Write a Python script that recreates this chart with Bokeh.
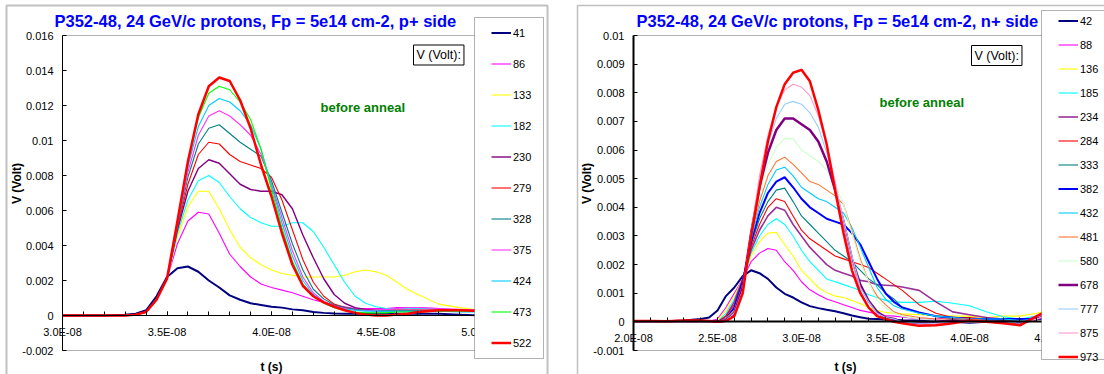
import math
from bokeh.plotting import figure
from bokeh.layouts import row
from bokeh.models import (Range1d, FixedTicker, CustomJSTickFormatter, Label,
                          BoxAnnotation, Legend, LegendItem)
from bokeh.embed import file_html
from bokeh.resources import INLINE

FONT = "Liberation Sans"

# ======================= LEFT CHART (p+ side) =======================
left_title = "P352-48, 24 GeV/c protons, Fp = 5e14 cm-2, p+ side"
# time in ns, signal in mV
left_t_ns = [30, 31, 32, 33, 33.5, 34, 34.5, 35, 35.5, 36, 36.5, 37, 37.5, 38, 38.5,
             39, 39.5, 40, 40.5, 41, 41.5, 42, 42.5, 43, 43.5, 44, 44.5, 45, 45.5,
             46, 46.5, 47, 48, 49, 50]
left_labels = ["41", "86", "133", "182", "230", "279", "328", "375", "424", "473", "522"]
left_41 = [0, 0, 0, 0.05, 0.1, 0.3, 1.1, 2.2, 2.7, 2.8, 2.5, 2.0, 1.6, 1.15, 0.9, 0.7, 0.6, 0.5,
           0.45, 0.35, 0.3, 0.2, 0.15, 0.12, 0.1, 0.1, 0.1, 0.1, 0.1, 0.1, 0.1, 0.1, 0.1, 0.05, 0.0]
left_86 = [0, 0, 0, 0, 0.05, 0.2, 0.9, 2.1, 4.1, 5.4, 5.9, 5.8, 4.7, 3.5, 2.8, 2.2, 1.8, 1.6,
           1.45, 1.3, 1.1, 0.9, 0.75, 0.6, 0.5, 0.4, 0.4, 0.4, 0.4, 0.45, 0.45, 0.45, 0.4, 0.3, 0.3]
left_133 = [0, 0, 0, 0, 0.05, 0.2, 0.9, 2.1, 4.5, 6.2, 7.1, 7.1, 6.1, 4.9, 3.9, 3.3, 2.9, 2.6,
            2.4, 2.3, 2.2, 2.2, 2.2, 2.2, 2.3, 2.5, 2.6, 2.5, 2.3, 1.9, 1.5, 1.2, 0.65, 0.45, 0.3]
left_182 = [0, 0, 0, 0, 0.05, 0.2, 0.9, 2.1, 4.7, 6.6, 7.7, 8.0, 7.6, 6.8, 6.1, 5.6, 5.3, 5.1,
            5.1, 5.3, 5.3, 4.8, 3.9, 2.9, 1.9, 1.1, 0.7, 0.5, 0.4, 0.4, 0.4, 0.4, 0.4, 0.3, 0.2]
left_230 = [0, 0, 0, 0, 0.05, 0.2, 0.9, 2.1, 4.9, 7.1, 8.4, 8.9, 8.7, 8.1, 7.5, 7.2, 7.1, 7.1,
            6.9, 6.1, 4.6, 3.3, 2.1, 1.2, 0.7, 0.45, 0.35, 0.3, 0.3, 0.3, 0.3, 0.3, 0.3, 0.3, 0.3]
left_279 = [0, 0, 0, 0, 0.05, 0.2, 0.9, 2.1, 5.0, 7.5, 9.2, 9.9, 9.8, 9.2, 8.8, 8.6, 8.4, 7.9,
            6.6, 4.9, 3.2, 1.9, 1.1, 0.65, 0.45, 0.35, 0.3, 0.3, 0.3, 0.3, 0.3, 0.3, 0.3, 0.3, 0.3]
left_328 = [0, 0, 0, 0, 0.05, 0.2, 0.9, 2.1, 5.1, 7.9, 9.8, 10.7, 10.9, 10.4, 9.9, 9.5, 9.1, 7.7,
            5.9, 4.1, 2.6, 1.5, 0.95, 0.6, 0.45, 0.35, 0.3, 0.25, 0.25, 0.25, 0.25, 0.25, 0.3, 0.3, 0.25]
left_375 = [0, 0, 0, 0, 0.05, 0.2, 0.9, 2.1, 5.2, 8.2, 10.3, 11.4, 11.7, 11.4, 10.9, 10.3, 9.2, 7.5,
            5.6, 3.7, 2.2, 1.3, 0.8, 0.55, 0.4, 0.3, 0.3, 0.3, 0.35, 0.4, 0.45, 0.45, 0.4, 0.35, 0.3]
left_424 = [0, 0, 0, 0, 0.05, 0.2, 0.9, 2.1, 5.3, 8.5, 10.8, 12.0, 12.4, 12.2, 11.7, 10.9, 9.5, 7.4,
            5.3, 3.4, 2.0, 1.2, 0.75, 0.5, 0.35, 0.3, 0.25, 0.25, 0.25, 0.25, 0.25, 0.25, 0.25, 0.2, 0.2]
left_473 = [0, 0, 0, 0, 0.05, 0.2, 0.9, 2.1, 5.4, 8.8, 11.3, 12.7, 13.1, 12.9, 12.2, 11.2, 9.5, 7.2,
            5.0, 3.1, 1.8, 1.1, 0.7, 0.45, 0.3, 0.2, 0.15, 0.15, 0.15, 0.2, 0.2, 0.2, 0.25, 0.25, 0.25]
left_522 = [0, 0, 0, 0, 0.05, 0.2, 0.9, 2.1, 5.4, 8.8, 11.5, 13.1, 13.6, 13.4, 12.3, 10.7, 8.6, 6.8,
            4.7, 2.9, 1.7, 1.1, 0.75, 0.5, 0.3, 0.15, 0.05, 0.0, 0.0, 0.05, 0.1, 0.2, 0.3, 0.3, 0.25]
left_series = [left_41, left_86, left_133, left_182, left_230, left_279, left_328,
               left_375, left_424, left_473, left_522]
left_colors = ["#000080", "#FF00FF", "#FFFF00", "#00FFFF", "#800080", "#FF0000", "#008080",
               "#FF33FF", "#00CCFF", "#00FF00", "#FF0000"]
left_widths = [2, 1.1, 1.1, 1.1, 1.4, 1.1, 1.1, 1.1, 1.1, 1.1, 2.5]
left_xticks = [3.0e-8, 3.5e-8, 4.0e-8, 4.5e-8, 5.0e-8]
left_xminor_ns = list(range(30, 51))
left_yticks = [-0.002, 0.0, 0.002, 0.004, 0.006, 0.008, 0.01, 0.012, 0.014, 0.016]

# ======================= RIGHT CHART (n+ side) =======================
right_title = "P352-48, 24 GeV/c protons, Fp = 5e14 cm-2, n+ side"
right_t_ns = [20, 21, 22, 23, 24, 24.5, 25, 25.5, 26, 26.5, 27, 27.5, 28, 28.5, 29, 29.5,
              30, 30.5, 31, 31.5, 32, 32.5, 33, 33.5, 34, 34.5, 35, 35.5, 36, 37, 38, 39,
              40, 41, 42, 43, 44, 45]
right_labels = ["42", "88", "136", "185", "234", "284", "333", "382", "432", "481",
                "580", "678", "777", "875", "973"]
right_42 = [0, 0, 0.02, 0.05, 0.1, 0.15, 0.4, 0.9, 1.2, 1.6, 1.8, 1.7, 1.5, 1.2, 0.98, 0.85,
            0.68, 0.55, 0.48, 0.42, 0.37, 0.3, 0.22, 0.16, 0.11, 0.1, 0.08, 0.07, 0.06,
            0.05, 0.03, 0.0, -0.03, 0.0, 0.05, 0.05, 0.1, 0.15]
right_88 = [0, 0, 0, 0, 0, 0.02, 0.1, 0.5, 1.0, 1.5, 2.1, 2.4, 2.56, 2.5, 2.1, 1.8,
            1.4, 1.12, 0.95, 0.8, 0.7, 0.6, 0.5, 0.4, 0.34, 0.28, 0.22, 0.2, 0.17,
            0.1, 0.1, 0.15, 0.1, 0.08, 0.1, 0.05, 0.2, 0.3]
right_136 = [0, 0, 0, 0, 0, 0, 0.05, 0.4, 0.9, 1.5, 2.3, 2.8, 3.1, 3.12, 2.7, 2.3,
             1.8, 1.5, 1.2, 1.02, 0.9, 0.85, 0.75, 0.63, 0.5, 0.4, 0.33, 0.3, 0.28,
             0.25, 0.22, 0.2, 0.2, 0.15, 0.2, 0.2, 0.3, 0.45]
right_185 = [0, 0, 0, 0, 0, 0, 0.0, 0.3, 0.8, 1.5, 2.4, 3.0, 3.4, 3.6, 3.4, 3.0,
             2.5, 2.1, 1.8, 1.5, 1.4, 1.3, 1.2, 1.1, 0.95, 0.85, 0.75, 0.7, 0.68,
             0.68, 0.72, 0.65, 0.56, 0.35, 0.18, 0.1, 0.2, 0.4]
right_234 = [0, 0, 0, 0, 0, 0, 0.0, 0.2, 0.7, 1.5, 2.5, 3.2, 3.7, 4.0, 3.9, 3.4,
             3.0, 2.6, 2.3, 2.0, 1.8, 1.7, 1.6, 1.45, 1.4, 1.3, 1.28, 1.26, 1.22,
             1.1, 0.7, 0.35, 0.25, 0.15, 0.1, 0.05, 0.1, 0.3]
right_284 = [0, 0, 0, 0, 0, 0, 0.0, 0.2, 0.6, 1.5, 2.6, 3.4, 4.0, 4.3, 4.2, 3.7,
             3.2, 2.9, 2.7, 2.5, 2.3, 2.2, 2.1, 2.0, 1.9, 1.7, 1.5, 1.3, 1.1,
             0.6, 0.3, 0.15, 0.15, 0.1, 0.05, 0.0, 0.1, 0.3]
right_333 = [0, 0, 0, 0, 0, 0, 0.0, 0.1, 0.5, 1.4, 2.7, 3.6, 4.2, 4.6, 4.67, 4.2,
             3.7, 3.4, 3.1, 2.8, 2.5, 2.3, 2.1, 1.8, 1.5, 1.3, 1.0, 0.8, 0.5,
             0.3, 0.2, 0.1, 0.1, 0.1, 0.05, 0.0, 0.1, 0.3]
right_382 = [0, 0, 0, 0, 0, 0, 0.0, 0.1, 0.5, 1.4, 2.8, 3.8, 4.5, 4.9, 5.05, 4.7,
             4.3, 4.0, 3.8, 3.6, 3.5, 3.4, 3.1, 2.7, 2.1, 1.5, 1.0, 0.7, 0.5,
             0.33, 0.2, 0.15, 0.1, 0.1, 0.1, 0.1, 0.1, 0.15]
right_432 = [0, 0, 0, 0, 0, 0, 0.0, 0.1, 0.4, 1.3, 2.9, 4.0, 4.8, 5.3, 5.4, 5.1,
             4.7, 4.5, 4.3, 4.2, 4.0, 3.8, 3.3, 2.6, 1.9, 1.2, 0.8, 0.56, 0.45,
             0.3, 0.2, 0.15, 0.1, 0.1, 0.1, 0.05, 0.1, 0.2]
right_481 = [0, 0, 0, 0, 0, 0, 0.0, 0.1, 0.4, 1.3, 3.0, 4.2, 5.1, 5.6, 5.75, 5.5,
             5.2, 4.9, 4.8, 4.6, 4.4, 4.1, 3.2, 2.2, 1.4, 0.9, 0.6, 0.35, 0.25,
             0.15, 0.1, 0.1, 0.1, 0.05, 0.0, 0.0, 0.1, 0.2]
right_580 = [0, 0, 0, 0, 0, 0, 0.0, 0.05, 0.3, 1.2, 3.1, 4.5, 5.5, 6.1, 6.4, 6.4,
             6.0, 5.8, 5.6, 5.3, 4.8, 4.1, 3.1, 2.1, 1.4, 0.75, 0.5, 0.3, 0.2,
             0.1, 0.05, 0.05, 0.05, 0.0, 0.0, 0.0, 0.1, 0.2]
right_678 = [0, 0, 0, 0, 0, 0, 0.0, 0.05, 0.3, 1.2, 3.1, 4.7, 5.9, 6.7, 7.1, 7.1,
             6.9, 6.7, 6.3, 5.6, 4.6, 3.5, 2.2, 1.3, 0.73, 0.35, 0.15, 0.1, 0.0,
             -0.05, 0.0, 0.05, 0.0, 0.0, 0.0, -0.05, 0.1, 0.3]
right_777 = [0, 0, 0, 0, 0, 0, 0.0, 0.05, 0.3, 1.1, 3.1, 4.9, 6.2, 7.1, 7.6, 7.7,
             7.6, 7.3, 6.8, 5.9, 4.8, 3.6, 2.3, 1.2, 0.7, 0.3, 0.15, 0.1, 0.0,
             -0.05, -0.05, 0.0, 0.0, 0.0, 0.0, -0.05, 0.1, 0.3]
right_875 = [0, 0, 0, 0, 0, 0, 0.0, 0.03, 0.2, 1.1, 3.1, 5.1, 6.5, 7.5, 8.1, 8.3,
             8.2, 7.9, 7.2, 6.2, 4.9, 3.4, 2.1, 1.1, 0.5, 0.2, 0.1, 0.0, -0.05,
             -0.1, -0.08, -0.03, 0.0, 0.0, -0.05, -0.1, 0.1, 0.3]
right_973 = [0.03, 0.03, 0.02, 0.05, 0.05, 0.03, 0.0, 0.03, 0.2, 1.0, 3.0, 4.7, 6.3, 7.5, 8.3, 8.7,
             8.8, 8.4, 7.4, 6.2, 4.6, 3.1, 1.8, 1.0, 0.5, 0.2, 0.1, 0.0, -0.05,
             -0.14, -0.12, -0.05, 0.05, 0.0, -0.05, -0.12, 0.2, 0.5]
right_series = [right_42, right_88, right_136, right_185, right_234, right_284, right_333,
                right_382, right_432, right_481, right_580, right_678, right_777,
                right_875, right_973]
right_colors = ["#000080", "#FF00FF", "#FFFF00", "#00FFFF", "#993399", "#FF0000", "#008080",
                "#0000FF", "#00CCFF", "#FF7733", "#CCFFCC", "#800080", "#99CCFF",
                "#FF99CC", "#FF0000"]
right_widths = [2, 1.1, 1.1, 1.1, 1.6, 1.1, 1.1, 2, 1.1, 1.1, 1.1, 2.5, 1.1, 1.1, 2.5]
right_xticks = [2.0e-8, 2.5e-8, 3.0e-8, 3.5e-8, 4.0e-8, 4.5e-8]
right_xminor_ns = list(range(20, 46))
right_yticks = [-0.001, 0.0, 0.001, 0.002, 0.003, 0.004, 0.005, 0.006, 0.007, 0.008, 0.009, 0.01]

HEIGHT = 374
PT, PB = 35, 350          # plot-area top / bottom in canvas pixels


def build(width, pl, pr, xlim, ylim, xticks, xminor_ns, yticks, t_ns, series, labels,
          colors, widths, axis_w, title, lay):
    # frame covers the whole canvas; ranges extended so that the plot area
    # (xlim x ylim) lands on pixels pl..pr, PT..PB
    x0, x1 = xlim
    y0, y1 = ylim
    kx = (x1 - x0) / (pr - pl)
    ky = (y1 - y0) / (PB - PT)
    xr = Range1d(x0 - pl * kx, x1 + (width - pr) * kx)
    yr = Range1d(y0 - (HEIGHT - PB) * ky, y1 + PT * ky)
    p = figure(width=width, height=HEIGHT, x_range=xr, y_range=yr,
               min_border=0, min_border_left=0, min_border_right=0, min_border_top=0,
               min_border_bottom=0, toolbar_location=None, output_backend="svg",
               title=None, outline_line_color=None,
               background_fill_color="white", border_fill_color="white")
    p.grid.visible = False

    def sx(cx):
        return cx

    def sy(cy):
        return HEIGHT - cy

    xa = p.xaxis[0]
    xa.fixed_location = 0
    xa.bounds = (x0, x1)
    xa.ticker = FixedTicker(ticks=xticks, minor_ticks=[m * 1e-9 for m in xminor_ns])
    xa.formatter = CustomJSTickFormatter(
        code="return tick.toExponential(1).toUpperCase().replace('E-', 'E-0');")
    xa.major_tick_in = 4
    xa.major_tick_out = 0
    xa.minor_tick_in = 4
    xa.minor_tick_out = 0
    xa.major_label_standoff = 10
    xa.axis_line_width = axis_w
    xa.axis_line_color = "black"
    xa.major_tick_line_color = "black"
    xa.minor_tick_line_color = "black"
    xa.major_label_text_font = FONT
    xa.major_label_text_font_size = "11px"
    xa.major_label_text_color = "black"

    ya = p.yaxis[0]
    ya.fixed_location = x0
    ya.bounds = (y0, y1)
    ya.ticker = FixedTicker(ticks=yticks)
    ya.formatter = CustomJSTickFormatter(code="return String(parseFloat(tick.toFixed(6)));")
    ya.major_tick_in = 4
    ya.major_tick_out = 0
    ya.minor_tick_in = 0
    ya.minor_tick_out = 0
    ya.major_label_standoff = 9
    ya.axis_line_width = axis_w
    ya.axis_line_color = "black"
    ya.major_tick_line_color = "black"
    ya.major_label_text_font = FONT
    ya.major_label_text_font_size = "11px"
    ya.major_label_text_color = "black"

    # plot-area border
    p.add_layout(BoxAnnotation(left=x0, right=x1, bottom=y0, top=y1, fill_alpha=0,
                               line_color="black", line_width=1, level="underlay"))

    t_s = [t * 1e-9 for t in t_ns]
    rends = []
    for vals, c, w in zip(series, colors, widths):
        r = p.line(t_s, [v / 1000.0 for v in vals], line_color=c, line_width=w)
        rends.append(r)

    # texts
    p.add_layout(Label(x=sx(lay["title_x"]), y=sy(20), x_units="screen", y_units="screen",
                       text=title, text_font=FONT, text_font_size="16.5px",
                       text_font_style="bold", text_color="#0000FF",
                       text_align="left", text_baseline="middle"))
    p.add_layout(Label(x=sx(lay["ba_x"]), y=sy(lay["ba_y"]), x_units="screen", y_units="screen",
                       text="before anneal", text_font=FONT, text_font_size="13px",
                       text_font_style="bold", text_color="#008000",
                       text_align="left", text_baseline="middle"))
    p.add_layout(Label(x=sx(lay["vv_x"]), y=sy(lay["vv_y"]), x_units="screen", y_units="screen",
                       text="V (Volt):", text_font=FONT, text_font_size="12.5px",
                       text_color="black", text_align="left", text_baseline="middle",
                       border_line_color="black", border_line_width=1,
                       background_fill_color="white", padding=3))
    p.add_layout(Label(x=sx(lay["tx"]), y=sy(366), x_units="screen", y_units="screen",
                       text="t (s)", text_font=FONT, text_font_size="12px",
                       text_font_style="bold", text_color="black",
                       text_align="center", text_baseline="middle"))
    p.add_layout(Label(x=sx(lay["vy_x"]), y=sy(183), x_units="screen", y_units="screen",
                       text="V (Volt)", text_font=FONT, text_font_size="12px",
                       text_font_style="bold", text_color="black", angle=math.pi / 2,
                       text_align="center", text_baseline="middle"))

    # outer chart-area frame
    ox0, ox1 = lay["outer"]
    p.add_layout(BoxAnnotation(left=sx(ox0), right=sx(ox1), top=sy(5), bottom=sy(400),
                               left_units="screen", right_units="screen",
                               top_units="screen", bottom_units="screen",
                               fill_alpha=0, line_color="#333333",
                               line_width=lay["outer_w"]))
    # legend box
    lx0, lx1, ly0, ly1 = lay["legbox"]
    p.add_layout(BoxAnnotation(left=sx(lx0), right=sx(lx1), top=sy(ly0), bottom=sy(ly1),
                               left_units="screen", right_units="screen",
                               top_units="screen", bottom_units="screen",
                               fill_color="white", fill_alpha=1.0, line_color="black",
                               line_width=1))
    items = [LegendItem(label=lab, renderers=[r]) for lab, r in zip(labels, rends)]
    leg = Legend(items=items, location=(sx(lay["glyph_x"]), sy(lay["leg_bottom"])),
                 padding=0, margin=0, spacing=lay["spacing"], label_height=15,
                 glyph_height=15, glyph_width=20, label_standoff=2,
                 border_line_color=None, background_fill_alpha=0,
                 label_text_font=FONT, label_text_font_size="11px",
                 label_text_color="black")
    p.add_layout(leg, "center")
    return p


left_layout = dict(title_x=54, ba_x=320, ba_y=107, vv_x=413, vv_y=54.5, tx=271, vy_x=16,
                   outer=(6, 547), outer_w=2, legbox=(474, 543, 17, 358),
                   glyph_x=491, leg_bottom=350, spacing=16)
right_layout = dict(title_x=76, ba_x=319, ba_y=102, vv_x=411, vv_y=55, tx=285, vy_x=26,
                    outer=(17, 620), outer_w=1.5, legbox=(481, 620, 10, 359),
                    glyph_x=498, leg_bottom=364, spacing=9)

p1 = build(560, 62, 480, (3.0e-8, 5.0e-8), (-0.002, 0.016), left_xticks, left_xminor_ns,
           left_yticks, left_t_ns, left_series, left_labels, left_colors, left_widths,
           1, left_title, left_layout)
p2 = build(544, 73, 493, (2.0e-8, 4.5e-8), (-0.001, 0.01), right_xticks, right_xminor_ns,
           right_yticks, right_t_ns, right_series, right_labels, right_colors, right_widths,
           2, right_title, right_layout)

layout = row(p1, p2)
open("out.html", "w").write(file_html(layout, INLINE))
